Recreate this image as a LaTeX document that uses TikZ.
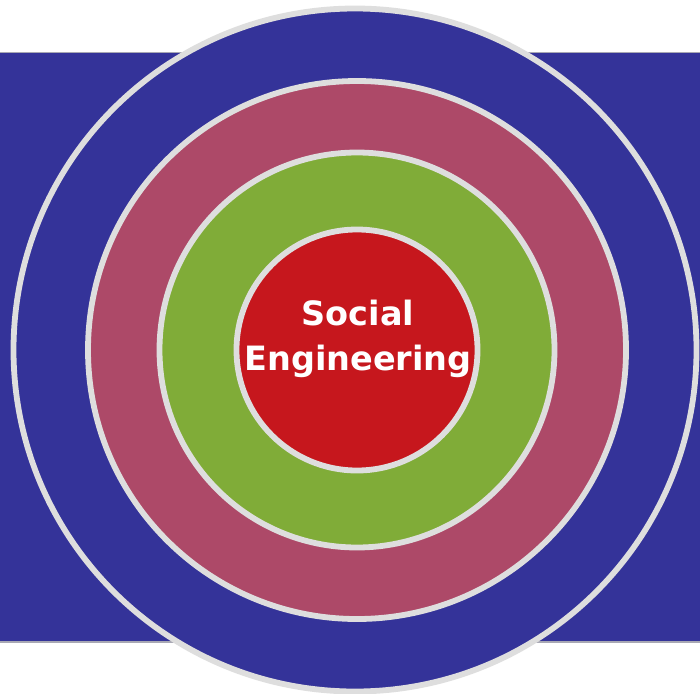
\documentclass[tikz,border=0pt]{standalone}
\usepackage{fontspec}
\setmainfont{DejaVu Sans}
\definecolor{ringblue}{HTML}{343399}
\definecolor{ringrose}{HTML}{AD4968}
\definecolor{ringgreen}{HTML}{80AC38}
\definecolor{ringred}{HTML}{C6171D}
\definecolor{ringedge}{HTML}{DEDEDE}
\definecolor{bandedge}{HTML}{A8A8B4}
\tikzset{x=1pt,y=-1pt,
 ring/.style={circle,draw=ringedge,line width=5.8pt,inner sep=0pt,outer sep=0pt,minimum size=#1}}
\begin{document}
\begin{tikzpicture}
\useasboundingbox (0,0) rectangle (700,693);
\fill[white] (0,0) rectangle (700,693);
\fill[ringblue] (0,53) rectangle (700,642);
\draw[bandedge,line width=1.2pt] (0,52.6) -- (700,52.6) (0,642) -- (700,642);
\node[ring=683pt,fill=ringblue] (outer) at (355,350) {};
\node[ring=538pt,fill=ringrose] (rose) at (357,350) {};
\node[ring=395pt,fill=ringgreen] (green) at (357,350) {};
\node[ring=241pt,fill=ringred] (core) at (357,350) {};
\node[align=center,text=white,inner sep=0pt,font=\bfseries\fontsize{33.5pt}{45pt}\selectfont] (label) at (358,338.5) {Social\\Engineering};
\end{tikzpicture}
\end{document}
